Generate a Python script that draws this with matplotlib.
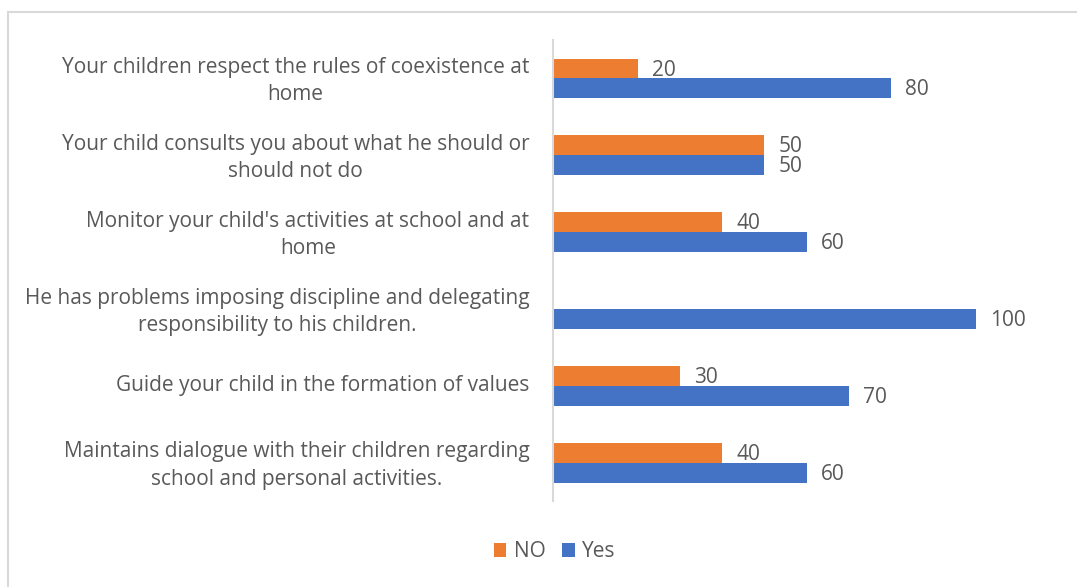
import numpy as np
import matplotlib.pyplot as plt
from matplotlib.patches import Rectangle
from matplotlib.transforms import ScaledTranslation

categories = [
    "Your children respect the rules of coexistence at\nhome",
    "Your child consults you about what he should or\nshould not do",
    "Monitor your child's activities at school and at\nhome",
    "He has problems imposing discipline and delegating\nresponsibility to his children.",
    "Guide your child in the formation of values",
    "Maintains dialogue with their children regarding\nschool and personal activities.",
]
no_vals = [20, 50, 40, 0, 30, 40]
yes_vals = [80, 50, 60, 100, 70, 60]

plt.rcParams['font.family'] = ['Open Sans', 'DejaVu Sans']
grey = '#595959'

fig = plt.figure(figsize=(10.77, 5.87), dpi=100)
ax = fig.add_axes([0.5135, 0.146, 0.471, 0.786])

y = np.arange(len(categories))
h = 0.257
b1 = ax.barh(y - h / 2, no_vals, height=h, color='#ED7D31', label='NO')
b2 = ax.barh(y + h / 2, yes_vals, height=h, color='#4472C4', label='Yes')

for bars, vals in ((b1, no_vals), (b2, yes_vals)):
    for bar, v in zip(bars, vals):
        if v == 0:
            continue
        ax.text(v + 3.3, bar.get_y() + bar.get_height() / 2 + 0.02, str(v),
                va='center', ha='left', fontsize=15, color=grey)

ax.set_xlim(0, 120)
ax.set_ylim(len(categories) - 0.5, -0.5)
ax.set_yticks(y)
ax.set_yticklabels(categories, fontsize=15, color=grey,
                   multialignment='center', linespacing=1.4)
ax.tick_params(axis='y', length=0, pad=17)
# nudge the category labels up a few pixels
for lbl in ax.get_yticklabels():
    lbl.set_transform(lbl.get_transform() + ScaledTranslation(0, 0.03, fig.dpi_scale_trans))
ax.set_xticks([])
for s in ['top', 'right', 'bottom']:
    ax.spines[s].set_visible(False)
ax.spines['left'].set_color('#d9d9d9')
ax.spines['left'].set_linewidth(1.5)

leg = fig.legend(handles=[b1, b2], labels=['NO', 'Yes'], loc='center',
                 bbox_to_anchor=(0.515, 0.06), ncol=2, frameon=False,
                 fontsize=15, handlelength=0.6, handleheight=0.6,
                 columnspacing=0.8, handletextpad=0.35)
for t in leg.get_texts():
    t.set_color(grey)

fig.patches.append(Rectangle((8 / 1077, -0.05), 1.1, 1 - 12 / 587 + 0.05,
                             transform=fig.transFigure, fill=False,
                             edgecolor='#d9d9d9', linewidth=1.5))

fig.savefig('out.png', dpi=100)
